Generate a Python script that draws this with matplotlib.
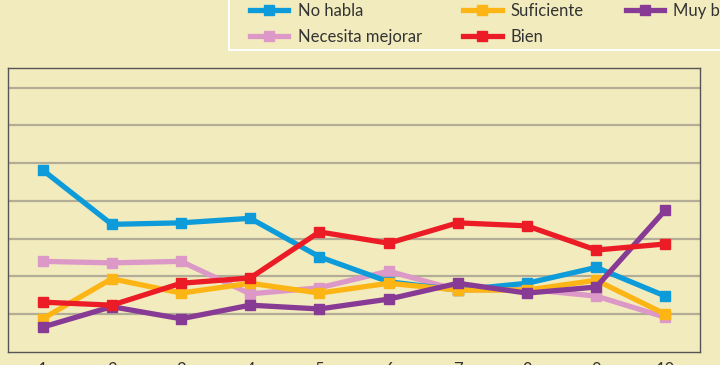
import matplotlib
matplotlib.use("Agg")
import matplotlib.pyplot as plt
from matplotlib.lines import Line2D
from matplotlib.patches import Rectangle

plt.rcParams['font.family'] = ['Lato', 'DejaVu Sans']

x = [1, 2, 3, 4, 5, 6, 7, 8, 9, 10]
tick_labels = ["1", "2", "3", "4", "5", "6", "7", "8", "9", "10"]
no_habla = [24.1, 16.9, 17.1, 17.7, 12.6, 9.3, 8.2, 9.1, 11.2, 7.4]
necesita = [12.0, 11.8, 12.0, 7.7, 8.5, 10.7, 8.2, 8.3, 7.4, 4.6]
suficiente = [4.4, 9.7, 7.8, 9.1, 7.8, 9.1, 8.2, 8.2, 9.5, 5.0]
bien = [6.6, 6.2, 9.1, 9.8, 15.9, 14.4, 17.1, 16.7, 13.5, 14.3]
muy_bien = [3.3, 6.0, 4.4, 6.2, 5.7, 7.0, 9.1, 7.8, 8.6, 18.8]
labels = ["No habla", "Necesita mejorar", "Suficiente", "Bien", "Muy bien"]

bg = "#F2EBBE"
colors = {"No habla": "#0E9BD9", "Necesita mejorar": "#DC98C6",
          "Suficiente": "#FDB515", "Bien": "#EC1C27", "Muy bien": "#873B95"}

fig = plt.figure(figsize=(7.2, 3.65), dpi=100, facecolor=bg)
ax = fig.add_axes([8/720, 13/365, 692/720, 284/365])
ax.set_facecolor(bg)

series = {"No habla": no_habla, "Necesita mejorar": necesita,
          "Suficiente": suficiente, "Bien": bien, "Muy bien": muy_bien}
zorders = {"Necesita mejorar": 3, "No habla": 4, "Suficiente": 5, "Muy bien": 6, "Bien": 7}
for name in labels:
    ax.plot(x, series[name], color=colors[name], lw=3.8, marker='s', ms=7,
            solid_joinstyle='miter', zorder=zorders[name])

ax.set_xlim(0.5, 10.5)
ax.set_ylim(0, 37.6)
ax.set_yticks([5, 10, 15, 20, 25, 30, 35])
ax.yaxis.grid(True, color="#B3AD98", lw=1.6, zorder=1)
ax.set_axisbelow(True)
ax.tick_params(axis='y', length=0, labelleft=False)
ax.set_xticks(x)
ax.set_xticklabels(tick_labels, fontsize=12, color="#333333")
ax.tick_params(axis='x', length=0, pad=7)
for s in ax.spines.values():
    s.set_linestyle((0, (2, 1)))
    s.set_color("#555555")
    s.set_linewidth(1.0)

# legend frame (top and right run off the picture)
fig.add_artist(Rectangle((229/720, 1 - 50/365), 600/720, 100/365,
                         transform=fig.transFigure, facecolor=bg,
                         edgecolor="white", lw=1.5, zorder=2))

handles = [Line2D([0], [0], color=colors[n], lw=3.8, marker='s', ms=7) for n in labels]
leg = fig.legend(handles, labels, ncol=3, loc='lower left',
                 bbox_to_anchor=(250/720, 1 - 45/365), fontsize=12,
                 frameon=False, handlelength=2.3, borderpad=0, borderaxespad=0,
                 handletextpad=0.55, columnspacing=2.5, labelspacing=0.58,
                 labelcolor="#333333")
leg.set_zorder(3)

fig.savefig("out.png", dpi=100, facecolor=bg)
